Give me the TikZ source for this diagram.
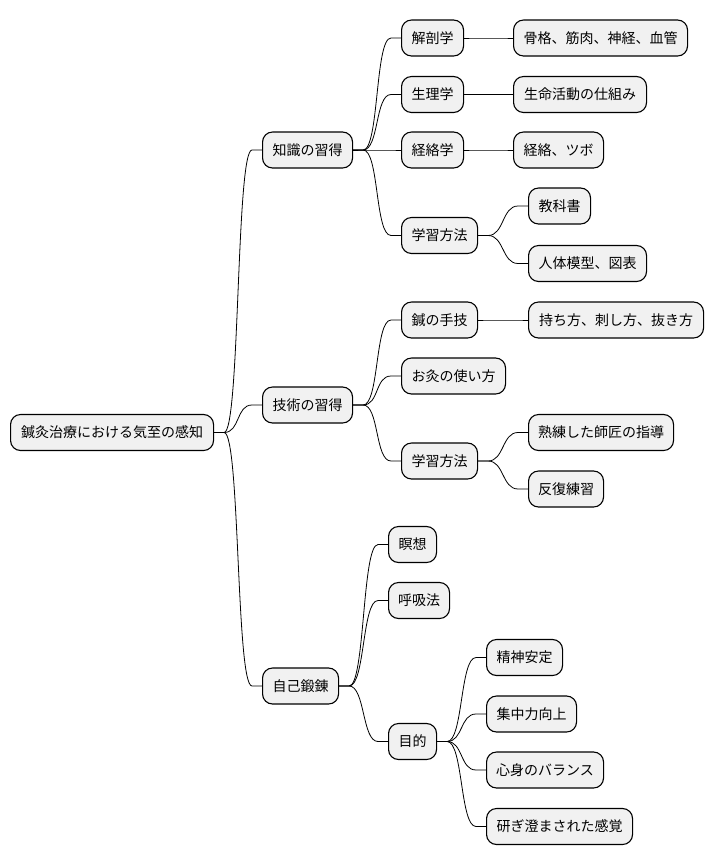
\documentclass[tikz,border=0pt]{standalone}
\usepackage{fontspec}
\setmainfont{Noto Sans CJK JP}
\definecolor{boxfill}{HTML}{F1F1F1}
\tikzset{
  mm/.style={draw=black, line width=1.1pt, fill=boxfill, rounded corners=10pt,
    minimum height=36pt, inner xsep=9pt, inner ysep=0pt, anchor=west,
    font=\fontsize{14pt}{16pt}\selectfont, text=black},
  link/.style={draw=black, line width=0.8pt}
}
\newcommand\mmlink[2]{\draw[link] (#1.east) -- ([xshift=10pt]#1.east) .. controls ([xshift=26pt]#1.east) and ([xshift=-26pt]#2.west) .. ([xshift=-10pt]#2.west) -- (#2.west);}
\begin{document}
\begin{tikzpicture}[x=1pt,y=-1pt]
\useasboundingbox (0,0) rectangle (712,865);
% root
\node[mm, minimum width=203pt] (root) at (10,432.5) {鍼灸治療における気至の感知};
% level 1
\node[mm, minimum width=90pt] (k) at (262,150) {知識の習得};
\node[mm, minimum width=90pt] (t) at (262,405) {技術の習得};
\node[mm, minimum width=76pt] (s) at (262,686) {自己鍛錬};
% knowledge
\node[mm, minimum width=62pt] (k1) at (401,38) {解剖学};
\node[mm, minimum width=62pt] (k2) at (401,94.5) {生理学};
\node[mm, minimum width=62pt] (k3) at (401,150) {経絡学};
\node[mm, minimum width=76pt] (k4) at (401,235.5) {学習方法};
\node[mm, minimum width=174pt] (k1a) at (513,38) {骨格、筋肉、神経、血管};
\node[mm, minimum width=133pt] (k2a) at (513,94.5) {生命活動の仕組み};
\node[mm, minimum width=90pt] (k3a) at (513,150) {経絡、ツボ};
\node[mm, minimum width=62pt] (k4a) at (528,206) {教科書};
\node[mm, minimum width=118pt] (k4b) at (528,263.5) {人体模型、図表};
% technique
\node[mm, minimum width=76pt] (t1) at (401,320) {鍼の手技};
\node[mm, minimum width=104pt] (t2) at (401,376) {お灸の使い方};
\node[mm, minimum width=76pt] (t3) at (401,461) {学習方法};
\node[mm, minimum width=175pt] (t1a) at (528,320) {持ち方、刺し方、抜き方};
\node[mm, minimum width=145pt] (t3a) at (528,432.5) {熟練した師匠の指導};
\node[mm, minimum width=75pt] (t3b) at (528,489) {反復練習};
% self
\node[mm, minimum width=48pt] (s1) at (388,544.5) {瞑想};
\node[mm, minimum width=61pt] (s2) at (388,600.5) {呼吸法};
\node[mm, minimum width=48pt] (s3) at (388,741.5) {目的};
\node[mm, minimum width=76pt] (s3a) at (486,657.5) {精神安定};
\node[mm, minimum width=90pt] (s3b) at (486,714) {集中力向上};
\node[mm, minimum width=117pt] (s3c) at (486,770) {心身のバランス};
\node[mm, minimum width=146pt] (s3d) at (486,826.5) {研ぎ澄まされた感覚};
% links
\mmlink{root}{k}\mmlink{root}{t}\mmlink{root}{s}
\mmlink{k}{k1}\mmlink{k}{k2}\mmlink{k}{k3}\mmlink{k}{k4}
\mmlink{k1}{k1a}\mmlink{k2}{k2a}\mmlink{k3}{k3a}
\mmlink{k4}{k4a}\mmlink{k4}{k4b}
\mmlink{t}{t1}\mmlink{t}{t2}\mmlink{t}{t3}
\mmlink{t1}{t1a}\mmlink{t3}{t3a}\mmlink{t3}{t3b}
\mmlink{s}{s1}\mmlink{s}{s2}\mmlink{s}{s3}
\mmlink{s3}{s3a}\mmlink{s3}{s3b}\mmlink{s3}{s3c}\mmlink{s3}{s3d}
\end{tikzpicture}
\end{document}
